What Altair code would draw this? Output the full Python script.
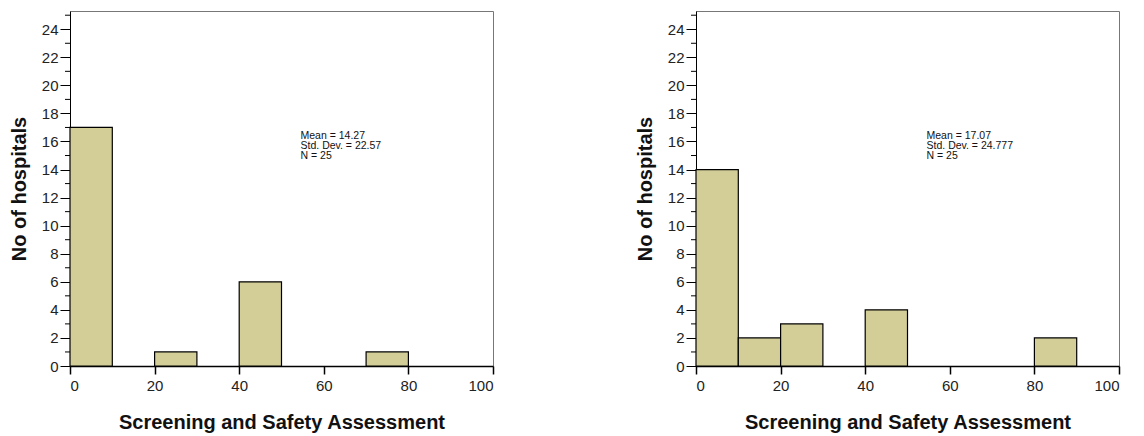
import altair as alt
import pandas as pd

# Left histogram
left_bin_start = [0, 20, 40, 70]
left_bin_end = [10, 30, 50, 80]
left_counts = [17, 1, 6, 1]
left_stats = ["Mean = 14.27", "Std. Dev. = 22.57", "N = 25"]

# Right histogram
right_bin_start = [0, 10, 20, 40, 80]
right_bin_end = [10, 20, 30, 50, 90]
right_counts = [14, 2, 3, 4, 2]
right_stats = ["Mean = 17.07", "Std. Dev. = 24.777", "N = 25"]

stat_x = [54.5, 54.5, 54.5]
stat_y = [16.75, 16.04, 15.33]

x_ticks = [0, 20, 40, 60, 80, 100]
y_major = list(range(0, 26, 2))
y_minor = list(range(1, 26, 2))

x_title = "Screening and Safety Assessment"
y_title = "No of hospitals"

FILL = "#D3CE98"
FONT = "Liberation Sans"

x_axis = alt.Axis(values=x_ticks, grid=False,
                  domainColor="black", domainWidth=1.5,
                  tickColor="black", tickSize=8, tickWidth=1.5,
                  labelFontSize=15, labelFont=FONT, labelColor="#222",
                  labelPadding=4, labelOverlap=False,
                  titleFontSize=20, titleFont=FONT, titleFontWeight="bold",
                  titleColor="#111", titlePadding=19)
y_axis = alt.Axis(values=y_major, grid=False,
                  labelOverlap=False,
                  domainColor="black", domainWidth=1,
                  tickColor="black", tickSize=10, tickWidth=1,
                  labelFontSize=15, labelFont=FONT, labelColor="#222",
                  labelPadding=2,
                  titleFontSize=20, titleFont=FONT, titleFontWeight="bold",
                  titleColor="#111", titlePadding=12)


def panel(starts, ends, counts, stats):
    bars_df = pd.DataFrame({"start": starts, "end": ends, "count": counts})
    txt_df = pd.DataFrame({"x": stat_x, "y": stat_y, "t": stats})
    minor_df = pd.DataFrame({"v": y_minor})
    xs = alt.Scale(domain=[0, 100], nice=False)
    ys = alt.Scale(domain=[0, 25.3], nice=False)
    bars = alt.Chart(bars_df).mark_bar(
        fill=FILL, stroke="black", strokeWidth=1.2
    ).encode(
        x=alt.X("start:Q", scale=xs, title=x_title, axis=x_axis),
        x2="end:Q",
        y=alt.Y("count:Q", scale=ys, title=y_title, axis=y_axis),
        y2=alt.value(355),
    )
    minor = alt.Chart(minor_df).mark_rule(
        color="black", strokeWidth=1, clip=False
    ).encode(
        x=alt.value(-5), x2=alt.value(0),
        y=alt.Y("v:Q", scale=ys, title=y_title, axis=y_axis),
    )
    text = alt.Chart(txt_df).mark_text(
        align="left", baseline="top", fontSize=10.5, font=FONT, color="#111"
    ).encode(
        x=alt.X("x:Q", scale=xs, title=x_title, axis=x_axis),
        y=alt.Y("y:Q", scale=ys, title=y_title, axis=y_axis),
        text="t:N",
    )
    return alt.layer(bars, minor, text).properties(width=423, height=355)


chart = alt.hconcat(
    panel(left_bin_start, left_bin_end, left_counts, left_stats),
    panel(right_bin_start, right_bin_end, right_counts, right_stats),
    spacing=139,
).configure_view(
    stroke="#777", strokeWidth=1
).properties(
    padding={"left": 0, "top": 2, "right": 2, "bottom": 2}
)

chart.save("out.html", embed_options={"renderer": "svg", "actions": False})
